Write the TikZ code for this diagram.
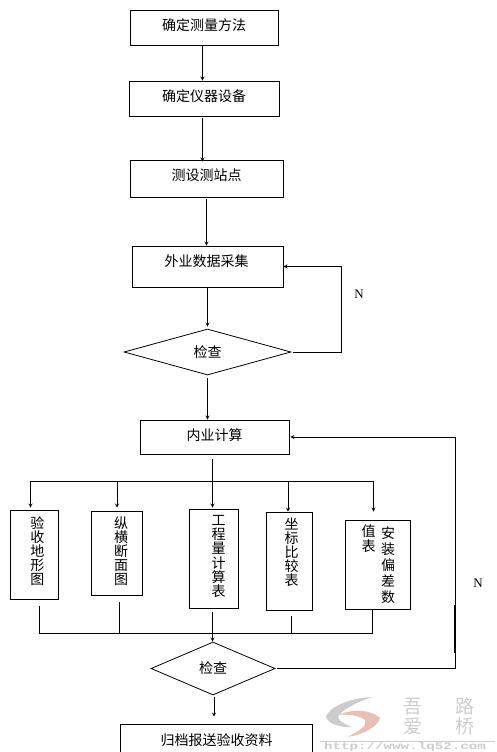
\documentclass[tikz,border=0pt]{standalone}
\usepackage{fontspec}
\setmainfont{Noto Sans CJK SC}
\newfontfamily\latinfont{Liberation Serif}
\newfontfamily\monofont{Liberation Mono}
\usepackage{tikz}
\usetikzlibrary{shapes.geometric}
\definecolor{markgray}{gray}{0.8}
\definecolor{markred}{RGB}{232,190,182}
\tikzset{
  flowbox/.style={draw,line width=0.8pt,inner sep=0pt,text depth=5pt,font=\fontsize{14}{14}\selectfont},
  colbox/.style={draw,line width=0.8pt,inner sep=0pt},
  checkbox/.style={draw,diamond,aspect=3,line width=0.8pt,inner sep=0pt,font=\fontsize{14}{14}\selectfont},
  vtext/.style={align=center,inner sep=0pt,font=\fontsize{14}{14.1}\selectfont},
  flowline/.style={line width=0.8pt},
  tagtext/.style={inner sep=0pt,font=\latinfont\fontsize{13}{14}\selectfont},
  marktext/.style={text=markgray,inner sep=0pt,align=center,font=\fontsize{19}{20}\selectfont},
}
\begin{document}
\begin{tikzpicture}[x=1pt,y=-1pt,>=stealth]
\useasboundingbox (0,0) rectangle (497,752);
% upper boxes
\node[flowbox,minimum width=148pt,minimum height=35pt] (method) at (204,27.5) {确定测量方法};
\node[flowbox,minimum width=150pt,minimum height=35pt] (device) at (204,98.5) {确定仪器设备};
\node[flowbox,text depth=8pt,minimum width=153pt,minimum height=37pt] (station) at (206.5,178.5) {测设测站点};
\node[flowbox,minimum width=151pt,minimum height=41pt] (field) at (207.5,266.5) {};
\node[inner sep=0pt,font=\fontsize{14}{14}\selectfont] (fieldtext) at (206.5,261.5) {外业数据采集};
\node[checkbox,minimum width=167pt,minimum height=46pt] (checka) at (207.5,352) {检查};
\node[flowbox,minimum width=149pt,minimum height=34pt] (office) at (214.5,437) {内业计算};
% column boxes
\node[colbox,minimum width=48pt,minimum height=89pt] (terrain) at (34,554.5) {};
\node[colbox,minimum width=51pt,minimum height=84pt] (section) at (116.5,553) {};
\node[colbox,minimum width=49pt,minimum height=99pt] (volume) at (213.5,558.5) {};
\node[colbox,minimum width=46pt,minimum height=98pt] (coord) at (289,561) {};
\node[colbox,minimum width=65pt,minimum height=89pt] (deviation) at (377.5,564.5) {};
\node[vtext] (terraintext) at (37.5,551) {验\\收\\地\\形\\图};
\node[vtext] (sectiontext) at (121,551) {纵\\横\\断\\面\\图};
\node[vtext] (volumetext) at (218.5,556.5) {工\\程\\量\\计\\算\\表};
\node[vtext] (coordtext) at (291.5,552.5) {坐\\标\\比\\较\\表};
\node[vtext,font=\fontsize{14}{16}\selectfont] (devtexta) at (388,565) {安\\装\\偏\\差\\数};
\node[vtext,font=\fontsize{14}{15}\selectfont] (devtextb) at (368.5,539) {值\\表};
% lower part
\node[checkbox,minimum width=124pt,minimum height=53pt] (checkb) at (213,668.5) {检查};
\node[colbox,minimum width=192pt,minimum height=40pt] (archive) at (216,744) {};
\node[inner sep=0pt,font=\fontsize{14}{14}\selectfont] (archivetext) at (216.5,740) {归档报送验收资料};
\node[tagtext] (taga) at (359,294) {N};
\node[tagtext] (tagb) at (478,583) {N};
% helper points
\coordinate (xa) at (202.5,0);
\coordinate (xb) at (206.5,0);
\coordinate (xc) at (207.5,0);
\coordinate (xd) at (212.5,0);
\coordinate (xe) at (214,0);
\coordinate (busa) at (212.5,481);
\coordinate (busl) at (30.5,481);
\coordinate (busr) at (373.5,481);
\coordinate (armb) at (117,481);
\coordinate (armd) at (288,481);
\coordinate (lowl) at (39.5,633.5);
\coordinate (lowb) at (119,633.5);
\coordinate (lowd) at (291,633.5);
\coordinate (lowr) at (372.5,633.5);
\coordinate (turna) at (341,352);
\coordinate (turnb) at (455,668.5);
% straight arrows
\draw[flowline,->] (method.south -| xa) -- (device.north -| xa);
\draw[flowline,->] ([yshift=-2pt]device.south -| xa) -- ([yshift=-2pt]station.north -| xa);
\draw[flowline,->] ([yshift=-2pt]station.south -| xb) -- (field.north -| xb);
\draw[flowline,->] (field.south) -- ([yshift=2pt]checka.north);
\draw[flowline,->] ([yshift=-3pt]checka.south) -- (office.north -| xc);
\draw[flowline] ([yshift=-5pt]office.south -| xd) -- (busa);
% upper bus
\draw[flowline] (busl) -- (busr);
\draw[flowline,->] (busl) -- ([yshift=2pt]terrain.north -| busl);
\draw[flowline,->] (armb) -- ([yshift=3pt]section.north -| armb);
\draw[flowline,->] (busa) -- ([yshift=1pt]volume.north -| busa);
\draw[flowline,->] (armd) -- (coord.north -| armd);
\draw[flowline,->] (busr) -- ([yshift=8pt]deviation.north -| busr);
% lower bus
\draw[flowline] ([yshift=-7pt]terrain.south -| lowl) -- (lowl);
\draw[flowline] ([yshift=-7pt]section.south -| lowb) -- (lowb);
\draw[flowline] ([yshift=-6pt]coord.south -| lowd) -- (lowd);
\draw[flowline] (deviation.south -| lowr) -- (lowr);
\draw[flowline] (lowl) -- (lowr);
\draw[flowline,->] ([yshift=-4pt]volume.south -| busa) -- (checkb.north -| busa);
\draw[flowline,->] ([yshift=-2pt]checkb.south -| xe) -- ([yshift=7pt]archive.north -| xe);
% return lines
\draw[flowline,->] ([xshift=2pt]checka.east) -- (turna) -- (turna |- field.east) -- (field.east);
\draw[flowline,->] ([xshift=2pt]checkb.east) -- (turnb) -- (turnb |- office.east) -- ([xshift=1pt]office.east);
\draw[line width=1.6pt] (455,605) -- (455,653);
% site mark
\fill[markgray] (372,697) .. controls (348,698) and (328,708) .. (326,717) .. controls (328,724) and (342,728) .. (352,727) .. controls (342,723) and (336,719) .. (339,715) .. controls (345,708) and (358,702) .. (372,697);
\fill[markred] (339,715) .. controls (352,708) and (372,710) .. (380,718) .. controls (378,727) and (362,735) .. (347,737) .. controls (360,731) and (368,725) .. (365,720) .. controls (358,715) and (348,714) .. (339,715);
\node[marktext] (marka) at (413,717) {吾\\爱};
\node[marktext] (markb) at (465,716) {路\\桥};
\draw[markgray,line width=0.6pt] (320,741) -- (495,741);
\node[text=markgray,inner sep=0pt,xscale=1.42,font=\monofont\bfseries\fontsize{10}{10}\selectfont] (markurl) at (405,747) {http://www.lq52.com};
\end{tikzpicture}
\end{document}
